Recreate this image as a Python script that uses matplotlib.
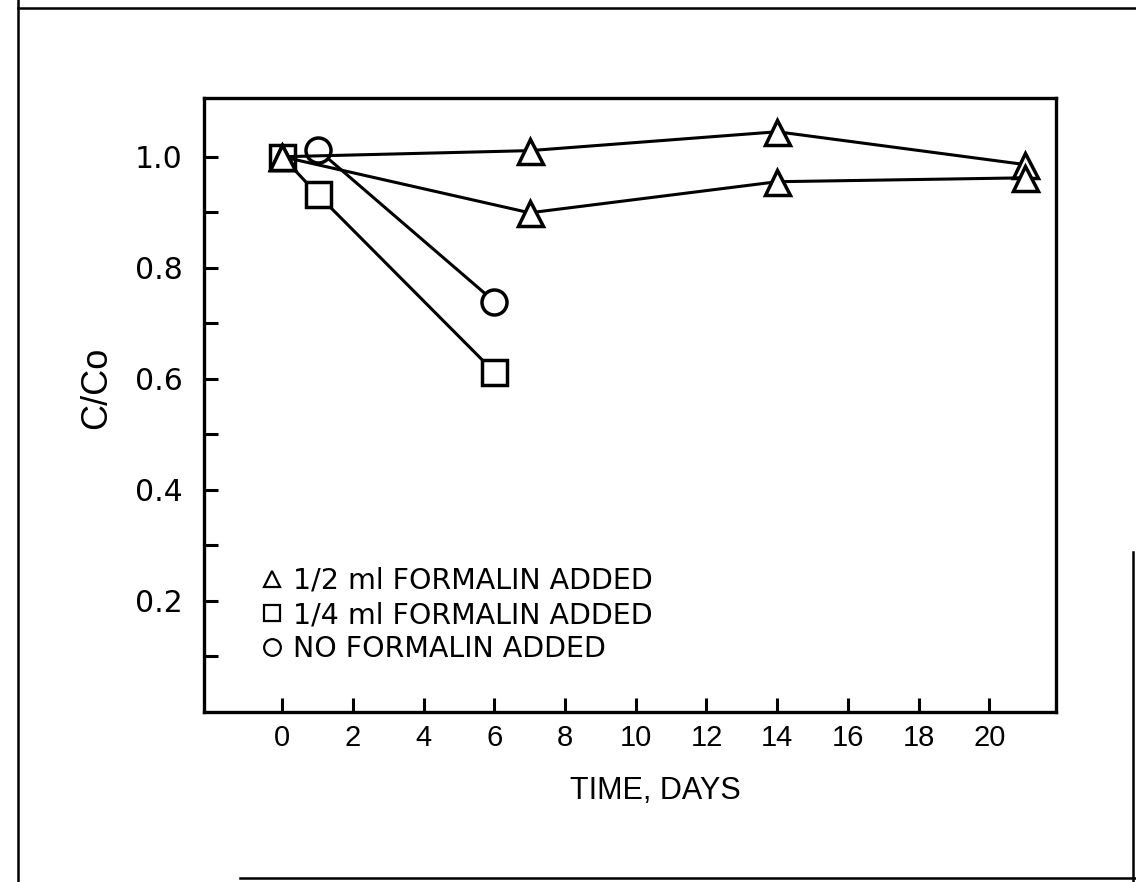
import matplotlib
matplotlib.use('Agg')
import matplotlib.pyplot as plt
from matplotlib.lines import Line2D
import numpy as np

# C/Co vs time
half_ml_a_days = [0, 7, 14, 21]
half_ml_a_c = [1.0, 1.011, 1.045, 0.986]
half_ml_b_days = [0, 7, 14, 21]
half_ml_b_c = [1.0, 0.899, 0.955, 0.962]
quarter_ml_days = [0, 1, 6]
quarter_ml_c = [1.0, 0.932, 0.612]
none_days = [1, 6]
none_c = [1.013, 0.739]

legend_labels = ['1/2 ml FORMALIN ADDED', '1/4 ml FORMALIN ADDED', 'NO FORMALIN ADDED']
legend_markers = ['^', 's', 'o']

xticks = list(range(0, 21, 2))
yticks = [0.2, 0.4, 0.6, 0.8, 1.0]
yminor = [0.1, 0.3, 0.5, 0.7, 0.9]

fig = plt.figure(figsize=(11.36, 8.82), dpi=100)
ax = fig.add_axes([0.180, 0.193, 0.750, 0.696])

mk = dict(color='black', lw=2.2, mfc='white', mec='black', mew=2.5, ms=18)
# squares first so the triangle sits on top of the square at day 0
ax.plot(quarter_ml_days, quarter_ml_c, marker='s', **mk)
ax.plot(none_days, none_c, marker='o', **mk)
ax.plot(half_ml_a_days, half_ml_a_c, marker='^', **mk)
ax.plot(half_ml_b_days, half_ml_b_c, marker='^', **mk)

ax.set_xlim(-2.2, 21.9)
ax.set_ylim(0, 1.106)

ax.set_xticks(xticks)
ax.set_xticklabels([str(t) for t in xticks], fontsize=21, family='Liberation Sans')
ax.set_yticks(yticks)
ax.set_yticklabels(['%.1f' % t for t in yticks], fontsize=21.5, family='DejaVu Sans')
ax.set_yticks(yminor, minor=True)
ax.tick_params(axis='both', which='both', direction='in', length=10, width=2.2)
ax.tick_params(axis='y', pad=16)
ax.tick_params(axis='x', pad=9)
ax.tick_params(top=False, right=False)
for s in ax.spines.values():
    s.set_linewidth(2.4)

ax.set_xlabel('TIME, DAYS', fontsize=22, family=['Liberation Sans Narrow', 'Liberation Sans'])
ax.xaxis.set_label_coords(0.529, -0.104)
ax.set_ylabel('C/Co', fontsize=26, family=['Liberation Sans Narrow', 'Liberation Sans'])
ax.yaxis.set_label_coords(-0.106, 0.528)

handles = [Line2D([], [], ls='none', marker=m, ms=12, mfc='white', mec='black', mew=1.6)
           for m in legend_markers]
ax.legend(handles, legend_labels, loc='upper left', bbox_to_anchor=(0.062, 0.236),
          frameon=False, prop={'family': 'DejaVu Sans', 'size': 20.5},
          handlelength=1.0, handletextpad=0.25, labelspacing=0.22, borderpad=0,
          borderaxespad=0)

# scanned page border
W, H = 1136.0, 882.0
page = [((18, 18), (0, 882)), ((18, 1136), (874, 874)), ((240, 1136), (4, 4)),
        ((1133, 1133), (0, 330))]
for xs, ys in page:
    fig.add_artist(Line2D([x / W for x in xs], [y / H for y in ys], color='black', lw=1.8,
                          transform=fig.transFigure))

plt.savefig('out.png', dpi=100)
